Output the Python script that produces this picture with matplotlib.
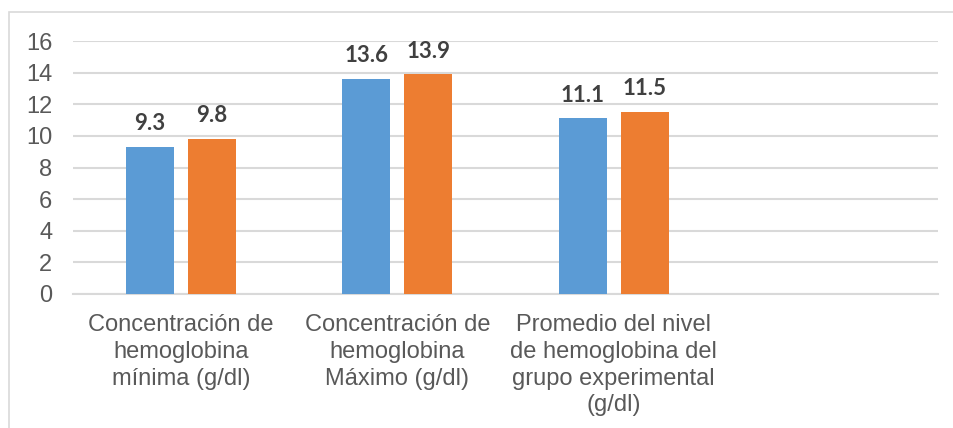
import matplotlib.pyplot as plt
from matplotlib.patches import Rectangle
import numpy as np

categorias = [
    "Concentración de\nhemoglobina\nmínima (g/dl)",
    "Concentración de\nhemoglobina\nMáximo (g/dl)",
    "Promedio del nivel\nde hemoglobina del\ngrupo experimental\n(g/dl)",
    "",
]
serie_1 = [9.3, 13.6, 11.1, None]
serie_2 = [9.8, 13.9, 11.5, None]
y_ticks = [0, 2, 4, 6, 8, 10, 12, 14, 16]

azul = "#5B9BD5"
naranja = "#ED7D31"
gris_grid = "#D9D9D9"

fig = plt.figure(figsize=(9.54, 4.28), dpi=100)
ax = fig.add_axes([73 / 954, 1 - 294 / 428, (938 - 73) / 954, (294 - 41) / 428])

# chart frame
fig.patches.append(Rectangle((9 / 954, -0.1), 1.1, 1.1 - 12 / 428,
                             transform=fig.transFigure, fill=False,
                             edgecolor=gris_grid, linewidth=1.2))

x = np.arange(len(categorias))
ancho = 0.222
desp = 0.1435

for vals, color, signo in [(serie_1, azul, -1), (serie_2, naranja, 1)]:
    xs = [xi + signo * desp for xi, v in zip(x, vals) if v is not None]
    vs = [v for v in vals if v is not None]
    bars = ax.bar(xs, vs, width=ancho, color=color, zorder=3)
    for b, v in zip(bars, vs):
        ax.annotate(f"{v:.1f}", (b.get_x() + b.get_width() / 2, v),
                    xytext=(0, 12), textcoords="offset points",
                    ha="center", va="baseline", fontsize=16,
                    fontweight="bold", color="#404040", family="Lato")

ax.set_xlim(-0.5, len(categorias) - 0.5)
ax.set_ylim(0, 16)
ax.set_yticks(y_ticks)
ax.set_xticks(x)
ax.set_xticklabels(categorias, fontsize=17, color="#595959",
                   family="Liberation Sans", linespacing=1.28)
for lbl in ax.get_yticklabels():
    lbl.set_fontsize(17)
    lbl.set_color("#595959")
    lbl.set_family("Liberation Sans")

ax.tick_params(axis="both", length=0)
ax.tick_params(axis="x", pad=14.5)
ax.tick_params(axis="y", pad=15)
ax.grid(axis="y", color=gris_grid, linewidth=1.5, zorder=0)
for s in ["top", "right", "left"]:
    ax.spines[s].set_visible(False)
ax.spines["bottom"].set_color(gris_grid)
ax.spines["bottom"].set_linewidth(1.5)

fig.savefig("out.png", dpi=100)
